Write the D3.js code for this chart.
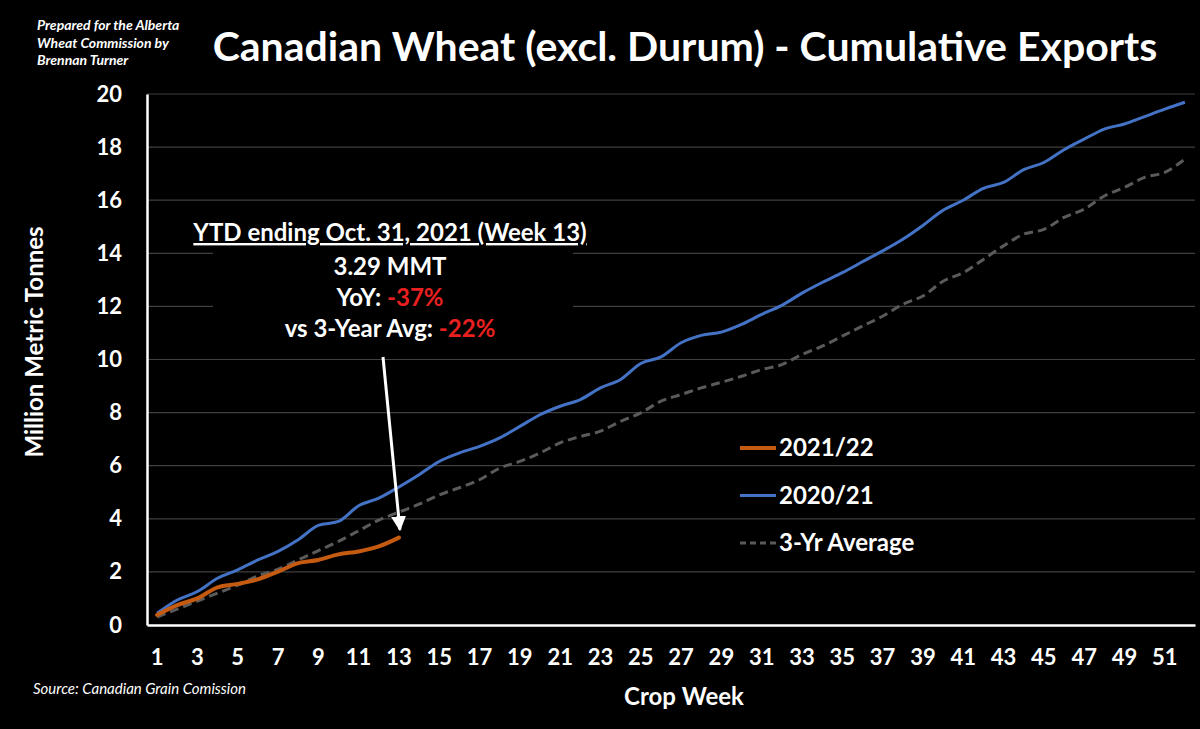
<!DOCTYPE html>
<html><head><meta charset="utf-8">
<script src="https://cdn.jsdelivr.net/npm/d3@7"></script>
<style>html,body{margin:0;padding:0;background:#000;}svg{display:block;}</style>
</head><body>
<svg id="chart" width="1200" height="729"></svg>
<script>
const weeks = d3.range(1, 53);
const tickWeeks = d3.range(1, 53, 2);
const yTicks = [0, 2, 4, 6, 8, 10, 12, 14, 16, 18, 20];
const seriesNames = ["2021/22", "2020/21", "3-Yr Average"];
const exports2122 = [0.38, 0.75, 1.0, 1.42, 1.55, 1.72, 2.01, 2.33, 2.45, 2.66, 2.77, 2.96, 3.29];
const exports2021 = [0.44, 0.94, 1.26, 1.76, 2.08, 2.45, 2.77, 3.21, 3.75, 3.90, 4.49, 4.78, 5.2,
  5.66, 6.16, 6.48, 6.73, 7.05, 7.48, 7.92, 8.24, 8.49, 8.93, 9.25, 9.85, 10.1, 10.63, 10.91, 11.03,
  11.32, 11.7, 12.04, 12.5, 12.9, 13.27, 13.68, 14.09, 14.53, 15.05, 15.62, 16.0, 16.45, 16.67, 17.15,
  17.42, 17.9, 18.3, 18.68, 18.87, 19.15, 19.43, 19.69];
const avg3yr = [0.3, 0.6, 0.9, 1.2, 1.5, 1.85, 2.1, 2.45, 2.8, 3.15, 3.55, 3.95, 4.25,
  4.55, 4.9, 5.17, 5.47, 5.91, 6.16, 6.48, 6.86, 7.1, 7.3, 7.67, 7.99, 8.43, 8.68, 8.93, 9.14,
  9.37, 9.62, 9.81, 10.19, 10.5, 10.88, 11.26, 11.63, 12.08, 12.39, 12.95, 13.27, 13.77, 14.28, 14.72,
  14.9, 15.35, 15.66, 16.16, 16.48, 16.86, 17.05, 17.55];
const annotationLines = ["YTD ending Oct. 31, 2021 (Week 13)", "3.29 MMT"];
const yoyLabel = "YoY: ", yoyValue = "-37%";
const avgLabel = "vs 3-Year Avg: ", avgValue = "-22%";

const svg = d3.select("#chart");
const FONT = "Lato, 'Open Sans', sans-serif";
const pLeft = 147, pRight = 1195, pTop = 94, pBottom = 625;

svg.append("rect").attr("width", 1200).attr("height", 729).attr("fill", "#000");

const x = d3.scaleBand().domain(weeks).range([pLeft, pRight]).padding(0);
const xc = w => x(w) + x.bandwidth() / 2;
const y = d3.scaleLinear().domain([0, 20]).range([pBottom, pTop]);

// gridlines
svg.append("g").selectAll("line").data(yTicks.filter(d => d > 0)).join("line")
  .attr("x1", pLeft).attr("x2", pRight).attr("y1", d => y(d)).attr("y2", d => y(d))
  .attr("stroke", "#3f3f3f").attr("stroke-width", 1.2);

// y axis
const yAxis = svg.append("g").attr("transform", `translate(${pLeft},0)`)
  .call(d3.axisLeft(y).tickValues(yTicks).tickSize(0).tickPadding(25));
yAxis.select(".domain").attr("stroke", "#fff").attr("stroke-width", 2.5);
yAxis.selectAll("text").attr("fill", "#fff").attr("font-family", FONT)
  .attr("font-weight", "bold").attr("font-size", 22);

// x axis
const xAxis = svg.append("g").attr("transform", `translate(0,${pBottom})`)
  .call(d3.axisBottom(x).tickValues(tickWeeks).tickSize(0).tickPadding(24));
xAxis.select(".domain").attr("stroke", "#fff").attr("stroke-width", 2.5);
xAxis.selectAll("text").attr("fill", "#fff").attr("font-family", FONT)
  .attr("font-weight", "bold").attr("font-size", 22);

// lines
const line = d3.line().x((d, i) => xc(weeks[i])).y(d => y(d)).curve(d3.curveMonotoneX);
svg.append("path").datum(avg3yr).attr("d", line).attr("fill", "none")
  .attr("stroke", "#5a5a5a").attr("stroke-width", 3).attr("stroke-dasharray", "9,5");
svg.append("path").datum(exports2021).attr("d", line).attr("fill", "none")
  .attr("stroke", "#4472c4").attr("stroke-width", 3);
svg.append("path").datum(exports2122).attr("d", line).attr("fill", "none")
  .attr("stroke", "#c55a11").attr("stroke-width", 4).attr("stroke-linecap", "round");

// title
svg.append("text").attr("x", 685).attr("y", 61).attr("text-anchor", "middle")
  .attr("fill", "#fff").attr("font-family", FONT).attr("font-weight", "bold").attr("font-size", 41)
  .text("Canadian Wheat (excl. Durum) - Cumulative Exports");

// prepared-for note
["Prepared for the Alberta", "Wheat Commission by", "Brennan Turner"].forEach((t, i) => {
  svg.append("text").attr("x", 37).attr("y", 30 + i * 17.5).attr("fill", "#fff")
    .attr("font-family", FONT).attr("font-weight", "bold").attr("font-style", "italic")
    .attr("font-size", 14).text(t);
});

// axis titles
svg.append("text").attr("transform", "translate(43,342) rotate(-90)").attr("text-anchor", "middle")
  .attr("fill", "#fff").attr("font-family", FONT).attr("font-weight", "bold").attr("font-size", 24)
  .text("Million Metric Tonnes");
svg.append("text").attr("x", 684).attr("y", 705).attr("text-anchor", "middle")
  .attr("fill", "#fff").attr("font-family", FONT).attr("font-weight", "bold").attr("font-size", 24)
  .text("Crop Week");
svg.append("text").attr("x", 33).attr("y", 694).attr("fill", "#fff")
  .attr("font-family", FONT).attr("font-style", "italic").attr("font-size", 15)
  .text("Source: Canadian Grain Comission");

// legend
const legendStyles = [
  {stroke: "#c55a11", w: 4, dash: null},
  {stroke: "#4472c4", w: 3, dash: null},
  {stroke: "#5a5a5a", w: 3, dash: "6,4"}
];
seriesNames.forEach((n, i) => {
  const ly = 448 + i * 47.5;
  svg.append("line").attr("x1", 740).attr("x2", 776).attr("y1", ly).attr("y2", ly)
    .attr("stroke", legendStyles[i].stroke).attr("stroke-width", legendStyles[i].w)
    .attr("stroke-dasharray", legendStyles[i].dash);
  svg.append("text").attr("x", 779).attr("y", ly + 8).attr("fill", "#fff")
    .attr("font-family", FONT).attr("font-weight", "bold").attr("font-size", 24).text(n);
});

// annotation box
svg.append("rect").attr("x", 213).attr("y", 213).attr("width", 360).attr("height", 134).attr("fill", "#000");
const ax = 390;
svg.append("text").attr("x", ax).attr("y", 241).attr("text-anchor", "middle")
  .attr("fill", "#fff").attr("font-family", FONT).attr("font-weight", "bold").attr("font-size", 24)
  .attr("text-decoration", "underline").text(annotationLines[0]);
svg.append("text").attr("x", ax).attr("y", 275).attr("text-anchor", "middle")
  .attr("fill", "#fff").attr("font-family", FONT).attr("font-weight", "bold").attr("font-size", 24)
  .text(annotationLines[1]);
const t2 = svg.append("text").attr("x", ax).attr("y", 306).attr("text-anchor", "middle")
  .attr("font-family", FONT).attr("font-weight", "bold").attr("font-size", 24);
t2.append("tspan").attr("fill", "#fff").text(yoyLabel);
t2.append("tspan").attr("fill", "#e82020").text(yoyValue);
const t3 = svg.append("text").attr("x", ax).attr("y", 337).attr("text-anchor", "middle")
  .attr("font-family", FONT).attr("font-weight", "bold").attr("font-size", 24);
t3.append("tspan").attr("fill", "#fff").text(avgLabel);
t3.append("tspan").attr("fill", "#e82020").text(avgValue);

// arrow
const defs = svg.append("defs");
defs.append("marker").attr("id", "ah").attr("viewBox", "0 0 10 10").attr("refX", 9).attr("refY", 5)
  .attr("markerWidth", 5).attr("markerHeight", 5).attr("orient", "auto")
  .append("path").attr("d", "M0,0 L10,5 L0,10 z").attr("fill", "#fff");
const tipX = xc(13) + 1, tipY = y(exports2122[12]) - 8;
svg.append("line").attr("x1", 383).attr("y1", 357).attr("x2", tipX).attr("y2", tipY)
  .attr("stroke", "#fff").attr("stroke-width", 3).attr("marker-end", "url(#ah)");
</script>
</body></html>
